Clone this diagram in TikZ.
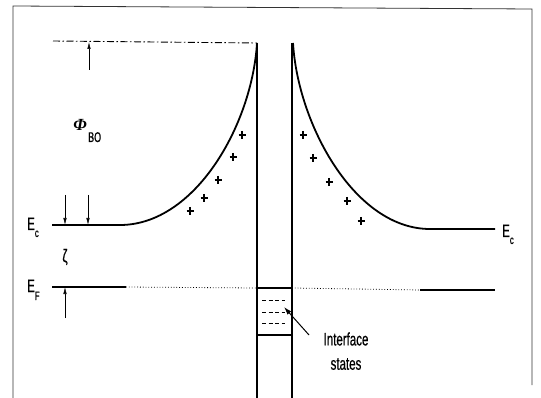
\documentclass[tikz,border=0pt]{standalone}
\usepackage{fontspec}
\usetikzlibrary{arrows.meta}
\newfontfamily\cf[FakeStretch=0.64,FakeBold=0.6]{Liberation Sans}
\newfontfamily\phif{Liberation Serif}
\newcommand{\lblsize}{\fontsize{18}{20}\selectfont}
\newcommand{\subsize}{\fontsize{12}{12}\selectfont}
\begin{document}
\begin{tikzpicture}[x=1pt,y=-1pt,
  band/.style={line width=1.8pt},
  level/.style={line width=1.8pt},
  wall/.style={line width=1.1pt},
  frame/.style={line width=0.8pt, black!80},
  thinarrow/.style={line width=0.6pt, -{Latex[length=7pt,width=3.5pt]}},
  ptr/.style={line width=1pt, -{Latex[length=8pt,width=5pt]}},
  lbl/.style={font=\cf\lblsize, inner sep=0pt},
  plusmark/.style={line width=1.1pt}
]
\useasboundingbox (0,0) rectangle (541,398);

% frame
\draw[frame] (13,398) -- (13,6) -- (532,9) -- (532,385);

% named points
\coordinate (dashL) at (53,41);
\coordinate (wallLtop) at (257,43);
\coordinate (wallLbot) at (257,398);
\coordinate (wallRtop) at (292,43);
\coordinate (wallRbot) at (292,398);
\coordinate (ecL0) at (52,225);
\coordinate (ecL1) at (120,225);
\coordinate (ecR1) at (430,229);
\coordinate (ecR0) at (495,229);
\coordinate (efL0) at (52,287);
\coordinate (efL1) at (126,287);
\coordinate (boxTL) at (256,288);
\coordinate (boxTR) at (292,288);
\coordinate (boxBL) at (256,335);
\coordinate (boxBR) at (292,335);
\coordinate (efR1) at (420,290);
\coordinate (efR0) at (495,290);

% dash-dot reference level
\draw[line width=0.9pt, dash pattern=on 7pt off 2.5pt on 1.5pt off 2.5pt] (dashL) -- (wallLtop);

% interface walls
\draw[wall] (wallLtop) -- (wallLbot);
\draw[wall] (wallRtop) -- (wallRbot);

% conduction band edges
\draw[band] (ecL0) -- (ecL1) .. controls (195,225) and (252,125) .. (wallLtop);
\draw[band] (293,43) .. controls (298,125) and (355,229) .. (ecR1) -- (ecR0);

% Fermi level
\draw[level] (efL0) -- (efL1);
\draw[line width=0.8pt, dotted] (efL1) -- (boxTL);
\draw[line width=1.5pt] (boxTL) -- (boxTR);
\draw[line width=1.5pt] (boxBL) -- (boxBR);
\draw[line width=0.8pt, dotted] (boxTR) -- (efR1);
\draw[level] (efR1) -- (efR0);

% interface states
\draw[line width=0.7pt, dash pattern=on 4pt off 2.5pt] (262,300) -- (285,300);
\draw[line width=0.7pt, dash pattern=on 4pt off 2.5pt] (262,312) -- (285,312);
\draw[line width=0.7pt, dash pattern=on 4pt off 2.5pt] (262,323) -- (285,323);

% space charge
\foreach \x/\y in {190/211,204/198,218/180,233/157,242/135,
                   303/135,313/158,329/182,347/201,361/221}
  \draw[plusmark] (\x-3.5,\y) -- (\x+3.5,\y) (\x,\y-4) -- (\x,\y+4);

% dimension arrows
\coordinate (phiA0) at (89,70);
\coordinate (phiA1) at (89,42);
\draw[thinarrow] (phiA0) -- (phiA1);
\coordinate (dA0) at (65,195);
\coordinate (dA1) at (65,225);
\coordinate (dB0) at (88,195);
\coordinate (dB1) at (88,225);
\draw[thinarrow] (dA0) -- (dA1);
\draw[thinarrow] (dB0) -- (dB1);
\coordinate (uA0) at (65,318);
\coordinate (uA1) at (65,287);
\draw[thinarrow] (uA0) -- (uA1);

% labels
\node[lbl, anchor=base west] (EcL) at (27,230) {E\raisebox{-7pt}{\subsize c}};
\node[lbl, anchor=base west] (EcR) at (502,237) {E\raisebox{-7pt}{\subsize c}};
\node[lbl, anchor=base west] (EfL) at (27,292) {E\raisebox{-8pt}{\subsize F}};
\node[lbl] (zeta) at (65,257) {ζ};
\node[inner sep=0pt, font=\phif\bfseries\itshape\fontsize{17}{17}\selectfont] (phi) at (80,125) {Φ};
\node[inner sep=0pt, anchor=base west, font=\cf\fontsize{14}{14}\selectfont] (bo) at (88,142) {BO};
\node[lbl] (iface) at (346,339) {Interface};
\node[lbl] (states) at (346,364) {states};

\coordinate (ptrEnd) at (284,307);
\draw[ptr] (309,335) -- (ptrEnd);
\end{tikzpicture}
\end{document}
